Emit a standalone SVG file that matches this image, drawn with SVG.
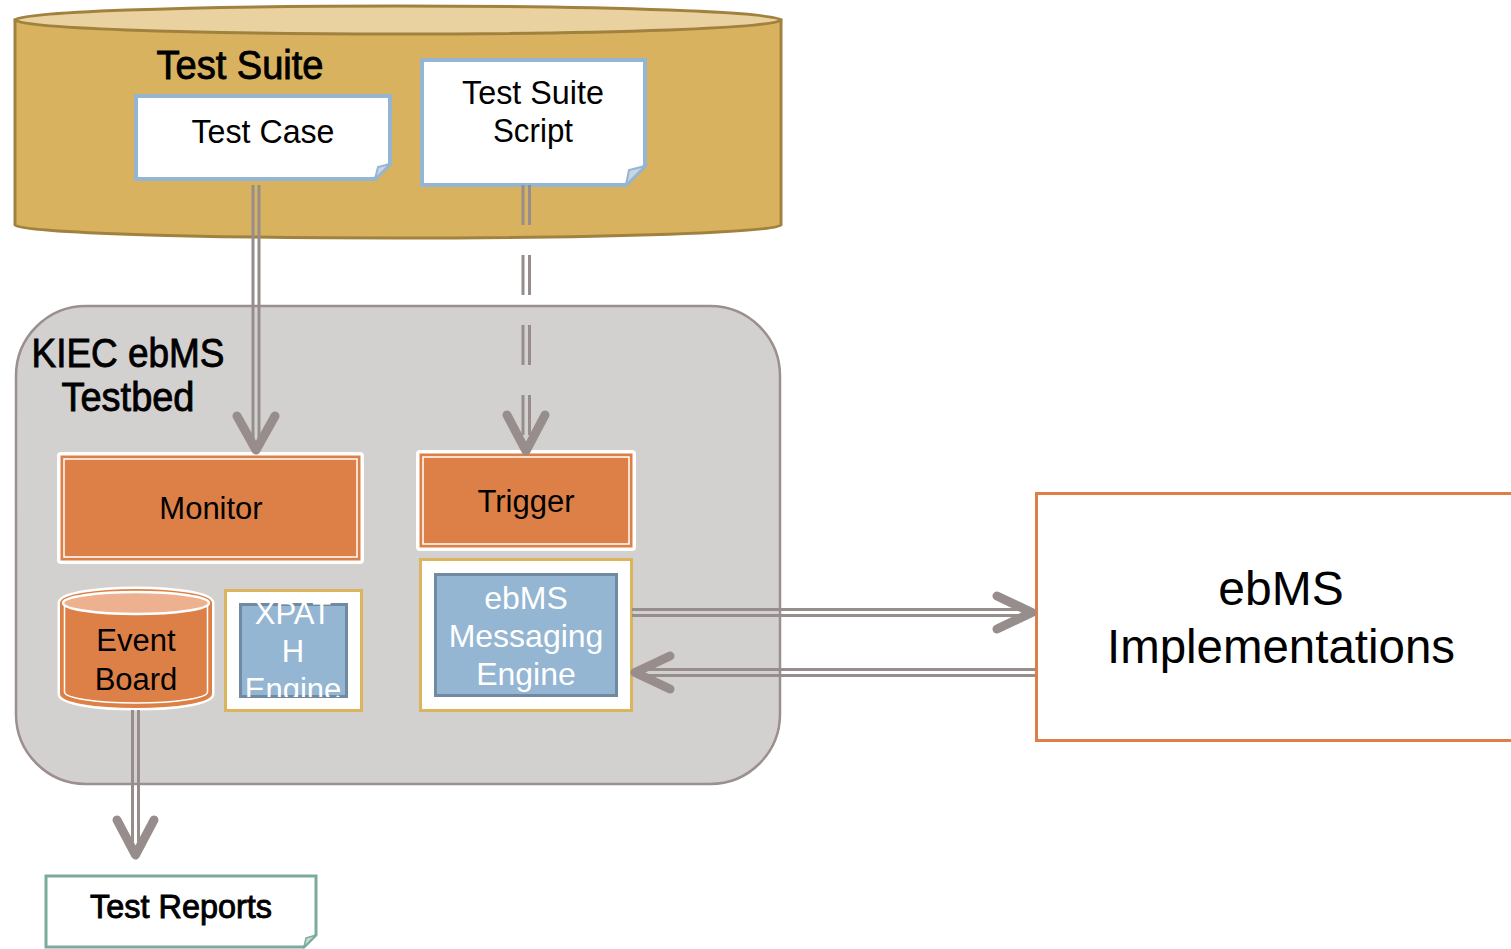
<svg xmlns="http://www.w3.org/2000/svg" width="1511" height="949" viewBox="0 0 1511 949">
<defs>
<style>
text{font-family:"Liberation Sans",Arial,sans-serif;fill:#000;text-anchor:middle}
.w{fill:#fff}
.hv{stroke:#000;stroke-width:0.9}
.ln{stroke:#978d8d;stroke-width:3;fill:none}
.hd{stroke:#978d8d;stroke-width:9;stroke-linecap:round;stroke-linejoin:round;fill:none}
.doc{fill:#fff;stroke:#94b6d2;stroke-width:4}
.fold{fill:#c9d5e2;stroke:#94b6d2;stroke-width:2}
.orng{fill:#dd8047}
</style>
<clipPath id="xclip"><rect x="226" y="591" width="135" height="106"/></clipPath>
</defs>
<rect width="1511" height="949" fill="#fff"/>

<g id="test-suite">
<path d="M15,20 V225 A383,13 0 0 0 781,225 V20 Z" fill="#d8b25f" stroke="#a1813e" stroke-width="3"/>
<ellipse cx="398" cy="20" rx="383" ry="14" fill="#e9d29f" stroke="#a1813e" stroke-width="3"/>
<text x="240" y="79" font-size="40" class="hv" textLength="167" lengthAdjust="spacingAndGlyphs">Test Suite</text>
</g>

<g id="test-case">
<path class="doc" d="M136,96 H390 V164 L375,179 H136 Z"/>
<path class="fold" d="M390,164 L378,167 L375,179 Z"/>
<text x="263" y="143" font-size="34" textLength="143" lengthAdjust="spacingAndGlyphs">Test Case</text>
</g>

<g id="test-suite-script">
<path class="doc" d="M422,60 H645 V166 L626,185 H422 Z"/>
<path class="fold" d="M645,166 L629,170 L626,185 Z"/>
<text x="533" y="104" font-size="33" textLength="142" lengthAdjust="spacingAndGlyphs">Test Suite</text>
<text x="533" y="142" font-size="33" textLength="80" lengthAdjust="spacingAndGlyphs">Script</text>
</g>

<g id="kiec-testbed">
<rect x="16" y="306" width="764" height="478" rx="70" fill="#d3d1cf" stroke="#9b8f8f" stroke-width="2.5"/>
<text x="128" y="367" font-size="41" class="hv" textLength="193" lengthAdjust="spacingAndGlyphs">KIEC ebMS</text>
<text x="128" y="411" font-size="41" class="hv" textLength="133" lengthAdjust="spacingAndGlyphs">Testbed</text>
</g>

<g id="monitor">
<rect x="57" y="452" width="307" height="112" rx="4" fill="#fff"/>
<rect x="60.5" y="455.5" width="300" height="105" class="orng"/>
<rect x="64" y="459" width="293" height="98" fill="none" stroke="#fff" stroke-width="1.5"/>
<text x="211" y="519" font-size="31">Monitor</text>
</g>

<g id="trigger">
<rect x="416" y="450" width="220" height="101" rx="4" fill="#fff"/>
<rect x="419.5" y="453.5" width="213" height="94" class="orng"/>
<rect x="423" y="457" width="206" height="87" fill="none" stroke="#fff" stroke-width="1.5"/>
<text x="526" y="512" font-size="31">Trigger</text>
</g>

<g id="event-board">
<path d="M61,603 V694 A75,13 0 0 0 211,694 V603 A75,13 0 0 0 61,603 Z" fill="#dd8047" stroke="#fff" stroke-width="7"/>
<path d="M61,603 V694 A75,13 0 0 0 211,694 V603 A75,13 0 0 0 61,603 Z" fill="#dd8047" stroke="#dd8047" stroke-width="2"/>
<path d="M64.5,606 V692 A71.5,11 0 0 0 207.5,692 V606" fill="none" stroke="#fff" stroke-width="1.5"/>
<ellipse cx="136" cy="603" rx="73" ry="11" fill="#eeb190" stroke="#fff" stroke-width="2.5"/>
<text x="136" y="651" font-size="31">Event</text>
<text x="136" y="690" font-size="31">Board</text>
</g>

<g id="xpath-engine">
<rect x="225.5" y="590.5" width="136" height="120" fill="#fff" stroke="#dbb45e" stroke-width="3"/>
<rect x="240.5" y="604.5" width="106" height="92" fill="#94b6d2" stroke="#6f8aa1" stroke-width="3"/>
<g clip-path="url(#xclip)">
<text x="293" y="624" font-size="31" class="w">XPAT</text>
<text x="293" y="662" font-size="31" class="w">H</text>
<text x="293" y="700" font-size="31" class="w">Engine</text>
</g>
</g>

<g id="ebms-engine">
<rect x="420.5" y="559.5" width="211" height="151" fill="#fff" stroke="#dbb45e" stroke-width="3"/>
<rect x="435.5" y="574.5" width="181" height="121" fill="#94b6d2" stroke="#6f8aa1" stroke-width="3"/>
<text x="526" y="609" font-size="32" class="w">ebMS</text>
<text x="526" y="647" font-size="32" class="w">Messaging</text>
<text x="526" y="685" font-size="32" class="w">Engine</text>
</g>

<g id="ebms-implementations">
<rect x="1036.5" y="493.5" width="480" height="247" fill="#fff" stroke="#dd8047" stroke-width="3"/>
<text x="1281" y="605" font-size="48">ebMS</text>
<text x="1281" y="663" font-size="48" textLength="348" lengthAdjust="spacingAndGlyphs">Implementations</text>
</g>

<g id="test-reports">
<path d="M46,876 H316 V935 L304,947 H46 Z" fill="#fff" stroke="#7aab9c" stroke-width="3"/>
<path d="M316,935 L306,938 L304,947 Z" fill="#c8dbd4" stroke="#7aab9c" stroke-width="1.5"/>
<text x="181" y="918" font-size="33" class="hv" textLength="182" lengthAdjust="spacingAndGlyphs">Test Reports</text>
</g>

<g id="connectors">
<path class="ln" d="M253,185 V445 M259,185 V445"/>
<path class="hd" d="M237,416 L256,450 L275,416"/>
<path class="ln" stroke-dasharray="40 30" d="M523,185 V445 M529.5,185 V445"/>
<path class="hd" d="M507,415 L526,451 L545,415"/>
<path class="ln" d="M132.5,710 V852 M138.5,710 V852"/>
<path class="hd" d="M117,820 L135.5,855 L154,820"/>
<path class="ln" d="M632,609.5 H1028 M632,615.5 H1028"/>
<path class="hd" d="M997,596 L1032,612.5 L997,629"/>
<path class="ln" d="M1035,669.5 H640 M1035,675.5 H640"/>
<path class="hd" d="M670,656 L635,672.5 L670,689"/>
</g>
</svg>
